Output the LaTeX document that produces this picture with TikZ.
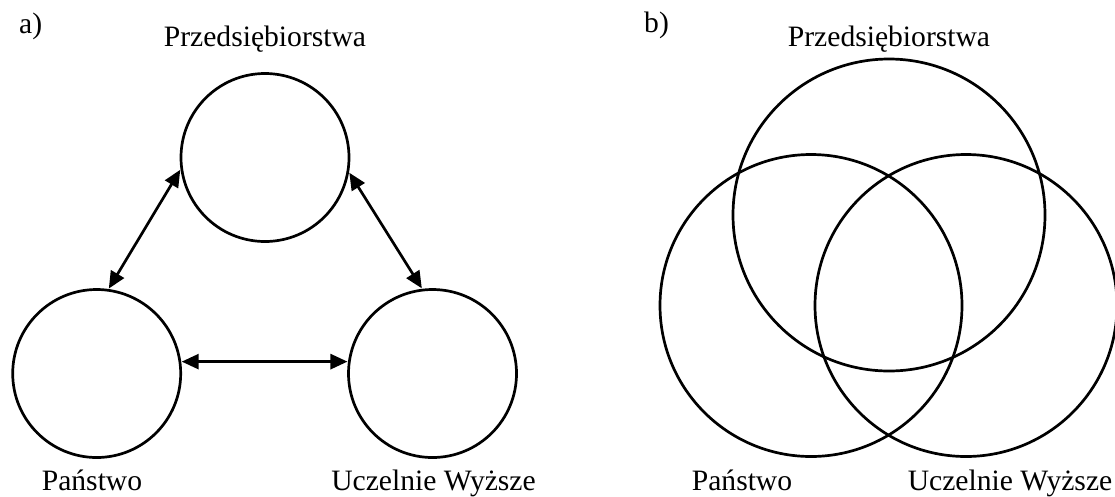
\documentclass[tikz,border=0pt]{standalone}
\usepackage{fontspec}
\setmainfont{Liberation Serif}
\usetikzlibrary{arrows.meta}
\tikzset{
  ring/.style={circle, draw, line width=2.7pt, inner sep=0pt, minimum size=#1},
  link/.style={line width=2.7pt, {Triangle[length=17pt,width=15pt]}-{Triangle[length=17pt,width=15pt]}, shorten <=0.5pt, shorten >=0.5pt},
  caption/.style={anchor=base, inner sep=0pt, font=\fontsize{29.6}{34}\selectfont},
  tag/.style={anchor=base west, inner sep=0pt, font=\fontsize{29.6}{34}\selectfont}
}
\begin{document}
\begin{tikzpicture}[x=1pt, y=-1pt]
\useasboundingbox (0,0) rectangle (1115,496);

% a) separate actors linked by two-way arrows
\node[tag] (la) at (19,33) {a)};
\node[ring=168pt] (ap) at (265,157.5) {};
\node[ring=168pt] (as) at (96.7,373.5) {};
\node[ring=168pt] (au) at (432.5,373.5) {};
\node[caption] (tap) at (265,46) {Przedsiębiorstwa};
\node[caption] (tas) at (92,490) {Państwo};
\node[caption] (tau) at (433.5,490) {Uczelnie Wyższe};
\draw[link] (as.82) -- (ap.188);
\draw[link] (ap.350) -- (au.97);
\draw[link] (as.8) -- (au.172);

% b) overlapping spheres
\node[tag] (lb) at (644,32) {b)};
\node[ring=312pt] (bp) at (889,215) {};
\node[ring=302pt] (bs) at (811,305.5) {};
\node[ring=302pt] (bu) at (966,305.5) {};
\node[caption] (tbp) at (889,46.5) {Przedsiębiorstwa};
\node[caption] (tbs) at (742,490) {Państwo};
\node[caption] (tbu) at (1010,490) {Uczelnie Wyższe};
\end{tikzpicture}
\end{document}
